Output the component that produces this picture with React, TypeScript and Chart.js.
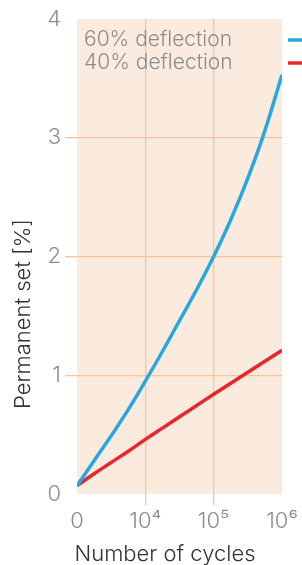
import React, { useEffect, useRef } from "react";
import { Chart, registerables } from "chart.js";

Chart.register(...registerables);

// x positions are decades on the custom axis: 0 -> 0 cycles, 1 -> 10^4, 2 -> 10^5, 3 -> 10^6
const xTickLabels = ["0", "10\u2074", "10\u2075", "10\u2076"];
const seriesNames = ["60% deflection", "40% deflection"];
const cyclePos = [0, 0.25, 0.5, 0.75, 1, 1.25, 1.5, 1.75, 2, 2.25, 2.5, 2.75, 3];
const set60 = [0.07, 0.28, 0.49, 0.71, 0.95, 1.2, 1.46, 1.72, 2.0, 2.31, 2.66, 3.06, 3.53];
const set40 = [0.07, 0.17, 0.265, 0.36, 0.46, 0.555, 0.65, 0.745, 0.84, 0.933, 1.025, 1.118, 1.21];
const yTicks = [0, 1, 2, 3, 4];

const BLUE = "#27a7de";
const RED = "#e8262c";
const BG = "#fbebde";
const GRID = "#f8c29c";
const TICK_TXT = "#8c8c8c";
const TITLE_TXT = "#333333";
const FONT = "Inter, 'Noto Sans', sans-serif";

export default function App() {
  const ref = useRef<HTMLCanvasElement | null>(null);

  useEffect(() => {
    if (!ref.current) return;
    const bgPlugin = {
      id: "bgPlugin",
      beforeDraw(chart: any) {
        const { ctx, chartArea } = chart;
        ctx.save();
        ctx.fillStyle = BG;
        ctx.fillRect(chartArea.left, chartArea.top, chartArea.right - chartArea.left, chartArea.bottom - chartArea.top);
        ctx.restore();
      },
      afterDraw(chart: any) {
        const { ctx } = chart;
        ctx.save();
        // legend texts
        ctx.font = `300 21px ${FONT}`;
        ctx.fillStyle = TICK_TXT;
        ctx.textAlign = "left";
        ctx.textBaseline = "middle";
        ctx.fillText(seriesNames[0], 84, 40);
        ctx.fillText(seriesNames[1], 84, 63);
        ctx.lineWidth = 3.5;
        ctx.strokeStyle = BLUE;
        ctx.beginPath();
        ctx.moveTo(288, 40);
        ctx.lineTo(302, 40);
        ctx.stroke();
        ctx.strokeStyle = RED;
        ctx.beginPath();
        ctx.moveTo(288, 63);
        ctx.lineTo(302, 63);
        ctx.stroke();
        // axis titles
        ctx.fillStyle = TITLE_TXT;
        ctx.font = `300 22px ${FONT}`;
        ctx.textAlign = "center";
        ctx.textBaseline = "alphabetic";
        ctx.fillText("Number of cycles", 165, 561);
        ctx.translate(30, 314);
        ctx.rotate(-Math.PI / 2);
        ctx.fillText("Permanent set [%]", 0, 0);
        ctx.restore();
      },
    };

    const interior = (ctx: any) => {
      const n = ctx.chart.scales[ctx.scale.id]?.ticks?.length ?? 0;
      const i = ctx.index;
      return i === 0 || i === n - 1 ? "rgba(0,0,0,0)" : GRID;
    };

    const chart = new Chart(ref.current, {
      type: "line",
      data: {
        datasets: [
          {
            label: seriesNames[0],
            data: cyclePos.map((x, i) => ({ x, y: set60[i] })),
            borderColor: BLUE,
            borderWidth: 3.5,
            pointRadius: 0,
            tension: 0.4,
            fill: false,
          },
          {
            label: seriesNames[1],
            data: cyclePos.map((x, i) => ({ x, y: set40[i] })),
            borderColor: RED,
            borderWidth: 3.5,
            pointRadius: 0,
            tension: 0.4,
            fill: false,
          },
        ],
      },
      options: {
        animation: false,
        responsive: false,
        maintainAspectRatio: false,
        layout: { padding: { top: 19, right: 20, left: 0, bottom: 0 } },
        plugins: { legend: { display: false }, tooltip: { enabled: false }, title: { display: false } },
        scales: {
          x: {
            type: "linear",
            min: 0,
            max: 3,
            border: { display: false },
            grid: { color: interior, lineWidth: 1.3, tickLength: 11, drawTicks: true },
            ticks: {
              stepSize: 1,
              padding: 3,
              color: TICK_TXT,
              font: { family: FONT, size: 22, weight: "300" },
              maxRotation: 0,
              autoSkip: false,
              callback: (v: any) => xTickLabels[Math.round(Number(v))] ?? "",
            },
            afterFit: (s: any) => {
              s.height = 71;
            },
          },
          y: {
            type: "linear",
            min: yTicks[0],
            max: yTicks[yTicks.length - 1],
            border: { display: false },
            grid: { color: interior, lineWidth: 1.3, tickLength: 12 },
            ticks: {
              stepSize: 1,
              padding: 4,
              color: TICK_TXT,
              font: { family: FONT, size: 22, weight: "300" },
            },
            afterFit: (s: any) => {
              s.width = 77;
            },
          },
        },
      },
      plugins: [bgPlugin],
    } as any);
    return () => chart.destroy();
  }, []);

  return (
    <div style={{ position: "absolute", left: 0, top: 0, width: 302, height: 565, background: "#fff" }}>
      <canvas ref={ref} width={302} height={565} style={{ display: "block", width: 302, height: 565 }} />
    </div>
  );
}
